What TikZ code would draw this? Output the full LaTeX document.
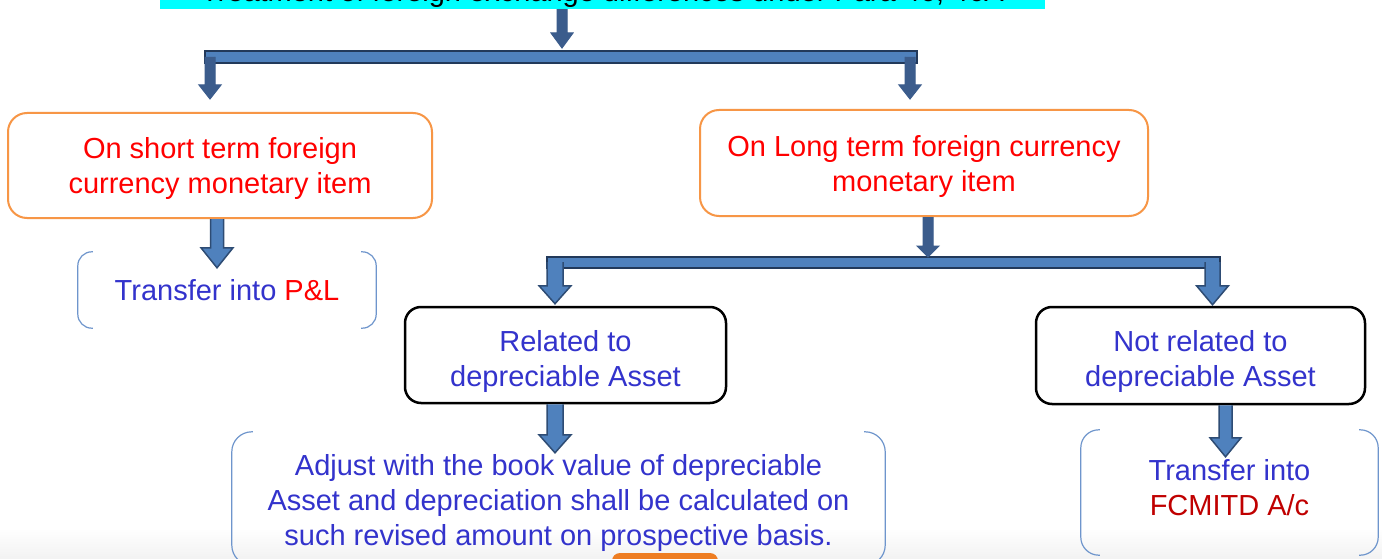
\documentclass[tikz,border=0pt]{standalone}
\usepackage{fontspec}
\setmainfont{Liberation Sans}
\usetikzlibrary{calc}

\definecolor{titlecyan}{HTML}{00FFFF}
\definecolor{itemorange}{HTML}{F79646}
\definecolor{itemred}{HTML}{FF0000}
\definecolor{textblue}{HTML}{3333CC}
\definecolor{accred}{HTML}{C00000}
\definecolor{bracketblue}{HTML}{6E95CC}
\definecolor{arrowfill}{HTML}{4F81BD}
\definecolor{arrowedge}{HTML}{2E4C74}
\definecolor{arrowdark}{HTML}{3B5C8C}
\definecolor{baredge}{HTML}{22395A}
\definecolor{nextorange}{HTML}{EE7D22}

\tikzset{
  every node/.style={font=\fontsize{29}{35}\selectfont},
  titlebar/.style={fill=titlecyan, text=black, minimum width=885pt, text depth=6pt, inner xsep=0pt, inner ysep=1pt},
  itembox/.style={draw=itemorange, line width=2pt, rounded corners=19pt, text=itemred, align=center, inner sep=0pt, text depth=0pt},
  casebox/.style={draw=black, line width=2.5pt, rounded corners=16pt, text=textblue, align=center, inner sep=0pt, text height=62pt, text depth=0pt},
  resultbox/.style={text=textblue, align=center, inner sep=0pt},
  bracketline/.style={draw=bracketblue, line width=1.2pt},
  fatarrow/.style={fill=arrowfill, draw=arrowedge, line width=1.5pt},
  thinarrow/.style={fill=arrowdark, draw=arrowdark, line width=1pt},
  forkbar/.style={fill=arrowfill, draw=baredge, line width=2pt}
}

\newcommand{\bracketsides}[2][14]{%
  \draw[bracketline, rounded corners=#1pt] ([xshift=#1pt+1pt]#2.north west) -- (#2.north west) -- (#2.south west) -- ([xshift=#1pt+1pt]#2.south west);
  \draw[bracketline, rounded corners=#1pt] ([xshift=-#1pt-1pt]#2.north east) -- (#2.north east) -- (#2.south east) -- ([xshift=-#1pt-1pt]#2.south east);}

\newcommand{\blockdown}[6]{%
  \filldraw[#1] let \p1=#2, \p2=#3 in
    (\x2-#4pt,\y1) -- (\x2-#4pt,\y2+#6pt) -- (\x2-#5pt,\y2+#6pt) -- (\x2,\y2)
    -- (\x2+#5pt,\y2+#6pt) -- (\x2+#4pt,\y2+#6pt) -- (\x2+#4pt,\y1);}

\begin{document}
\begin{tikzpicture}[x=1pt,y=-1pt]
\useasboundingbox (0,0) rectangle (1382,559);
\fill[white] (0,0) rectangle (1382,559);
\fill[top color=white, bottom color=black!5] (0,528) rectangle (1382,559);
\clip (0,0) rectangle (1382,559);

\node[titlebar, anchor=base] (title) at (602.5,2) {Treatment of foreign exchange differences under Para 46, 46A};

\node[itembox, minimum width=424pt, minimum height=105pt] (short) at (220,165.5) {On short term foreign\\currency monetary item};
\node[itembox, minimum width=448pt, minimum height=106pt] (long) at (924,163) {On Long term foreign currency\\monetary item};
\node[resultbox, minimum width=298pt, minimum height=76pt] (pl) at (227,290) {Transfer into \textcolor{itemred}{P\&L}};
\node[casebox, minimum width=321pt, minimum height=96pt] (related) at (565.5,355) {Related to\\depreciable Asset};
\node[casebox, minimum width=329pt, minimum height=97pt] (notrelated) at (1200.5,355.5) {Not related to\\depreciable Asset};
\node[resultbox, minimum width=653pt, minimum height=133pt, text height=93pt, text depth=0pt] (adjust) at (558.5,498.5) {Adjust with the book value of depreciable\\Asset and depreciation shall be calculated on\\such revised amount on prospective basis.};
\node[resultbox, minimum width=297pt, minimum height=125pt, text depth=10pt] (fcmitd) at (1229.5,492.5) {Transfer into\\\textcolor{accred}{FCMITD A/c}};
\node[fill=nextorange, rounded corners=8pt, minimum width=106pt, minimum height=40pt] (nextbox) at (665,573) {};

\bracketsides[14]{pl}
\bracketsides[20]{adjust}
\bracketsides[18]{fcmitd}

\coordinate (forkA) at (562,48);
\coordinate (barA) at (562,57);
\coordinate (forkB) at (928,257);
\coordinate (barB) at (928,262);
\filldraw[forkbar] (205,51) rectangle (917,63);
\filldraw[forkbar] (547,257) rectangle (1220,268);

\blockdown{thinarrow}{(title.south)}{(forkA)}{5}{11}{15}
\blockdown{thinarrow}{(barA)}{([xshift=-10pt,yshift=13pt]short.north)}{5}{11}{14}
\blockdown{thinarrow}{(barA)}{([xshift=-14pt,yshift=10pt]long.north)}{5}{11}{14}
\blockdown{thinarrow}{(long.south)}{(forkB)}{5}{11}{11}
\blockdown{fatarrow}{(short.south)}{([xshift=-10pt,yshift=-16pt]pl.north)}{6.5}{16}{20}
\blockdown{fatarrow}{(barB)}{([xshift=-10.5pt,yshift=2pt]related.north)}{8}{16}{18}
\blockdown{fatarrow}{(barB)}{([xshift=12pt,yshift=1pt]notrelated.north)}{7.5}{16}{19}
\blockdown{fatarrow}{(related.south)}{([xshift=-3.5pt,yshift=-21pt]adjust.north)}{8}{16}{18}
\blockdown{fatarrow}{(notrelated.south)}{([xshift=-4pt,yshift=-27pt]fcmitd.north)}{6.5}{15.5}{19}
\end{tikzpicture}
\end{document}
